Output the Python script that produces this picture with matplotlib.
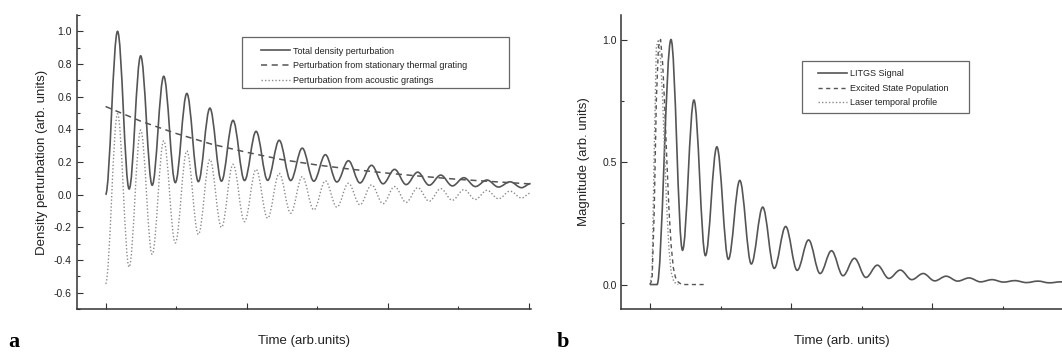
import matplotlib as mpl
mpl.use('agg')
import matplotlib.pyplot as plt
from matplotlib.path import Path
from matplotlib.patches import PathPatch, Rectangle
from matplotlib.lines import Line2D
from matplotlib.ticker import MultipleLocator, FixedLocator

plt.rcParams['font.family'] = ['Liberation Sans', 'DejaVu Sans']
plt.rcParams['axes.unicode_minus'] = False

# ---- panel a : extrema of the oscillating curves (time in arb. units) ----
a_time = [0.0, 0.17, 0.334, 0.498, 0.661, 0.825, 0.989, 1.153, 1.316, 1.48,
          1.644, 1.808, 1.971, 2.135, 2.299, 2.463, 2.626, 2.79, 2.954, 3.118,
          3.281, 3.445, 3.609, 3.773, 3.936, 4.1, 4.264, 4.428, 4.591, 4.755,
          4.919, 5.083, 5.246, 5.41, 5.574, 5.738, 5.901, 6.03]
a_total = [0.0, 1.0, 0.035, 0.85, 0.058, 0.725, 0.074, 0.62, 0.08, 0.53,
           0.083, 0.455, 0.087, 0.388, 0.088, 0.333, 0.087, 0.285, 0.083, 0.245,
           0.078, 0.208, 0.072, 0.18, 0.067, 0.155, 0.062, 0.138, 0.058, 0.12,
           0.054, 0.104, 0.05, 0.09, 0.047, 0.079, 0.043, 0.068]
a_acoustic = [-0.545, 0.495, -0.443, 0.396, -0.365, 0.33, -0.295, 0.268, -0.243, 0.216,
              -0.2, 0.186, -0.165, 0.155, -0.144, 0.13, -0.113, 0.11, -0.093, 0.085,
              -0.076, 0.07, -0.062, 0.06, -0.055, 0.05, -0.047, 0.043, -0.04, 0.037,
              -0.034, 0.031, -0.029, 0.027, -0.025, 0.022, -0.02, 0.01]
a_thermal_t = [0.0, 0.5, 1.0, 1.5, 2.0, 2.5, 3.0, 3.5, 4.0, 4.5, 5.0, 5.5, 6.03]
a_thermal = [0.54, 0.45, 0.375, 0.31, 0.26, 0.215, 0.182, 0.155, 0.132, 0.112, 0.094, 0.08, 0.066]

# ---- panel b ----
b_time = [0.0, 0.1, 0.298, 0.461, 0.623, 0.786, 0.948, 1.111, 1.273, 1.436, 1.598,
          1.761, 1.923, 2.086, 2.248, 2.411, 2.573, 2.736, 2.898, 3.061, 3.223,
          3.386, 3.548, 3.711, 3.873, 4.036, 4.198, 4.361, 4.523, 4.686, 4.848,
          5.011, 5.173, 5.336, 5.498, 5.661, 5.823, 5.986]
b_signal = [0.0, 0.0, 1.0, 0.14, 0.753, 0.118, 0.562, 0.103, 0.425, 0.084, 0.316,
            0.066, 0.237, 0.058, 0.182, 0.045, 0.138, 0.036, 0.107, 0.029, 0.079,
            0.025, 0.059, 0.02, 0.045, 0.015, 0.034, 0.014, 0.027, 0.011, 0.02,
            0.01, 0.016, 0.008, 0.014, 0.007, 0.011, 0.006]
b_pop_t = [0.0, 0.03, 0.06, 0.09, 0.12, 0.15, 0.18, 0.21, 0.24, 0.27, 0.30,
           0.33, 0.36, 0.40, 0.45, 0.55, 0.65, 0.81]
b_pop = [0.0, 0.02, 0.3, 0.75, 0.97, 1.0, 0.9, 0.72, 0.5, 0.3, 0.16,
         0.07, 0.03, 0.01, 0.0, 0.0, 0.0, 0.0]
b_laser_t = [0.0, 0.03, 0.06, 0.09, 0.12, 0.15, 0.18, 0.21, 0.24, 0.27, 0.30, 0.34, 0.40]
b_laser = [0.0, 0.05, 0.55, 0.97, 1.0, 0.92, 0.75, 0.52, 0.3, 0.14, 0.05, 0.01, 0.0]

LINE = '#555555'
DOTC = '#8a8a8a'
AXC = '#333333'


def smooth_path(ts, vs):
    # bezier segments with flat tangents at every extremum
    verts = [(ts[0], vs[0])]
    codes = [Path.MOVETO]
    for i in range(len(ts) - 1):
        h = ts[i + 1] - ts[i]
        verts += [(ts[i] + 0.36 * h, vs[i]), (ts[i + 1] - 0.36 * h, vs[i + 1]), (ts[i + 1], vs[i + 1])]
        codes += [Path.CURVE4] * 3
    return Path(verts, codes)


def style_axes(ax):
    for s in ['top', 'right']:
        ax.spines[s].set_visible(False)
    for s in ['left', 'bottom']:
        ax.spines[s].set_color(AXC)
        ax.spines[s].set_linewidth(1.1)
    ax.tick_params(which='both', direction='in', color=AXC, width=0.8, labelsize=7.5, labelcolor='#222222')
    ax.tick_params(which='major', length=4)
    ax.tick_params(which='minor', length=2.5)
    ax.tick_params(axis='x', labelbottom=False)
    ax.xaxis.set_major_locator(MultipleLocator(2))
    ax.xaxis.set_minor_locator(MultipleLocator(1))


fig = plt.figure(figsize=(10.62, 3.54), dpi=100)

# panel a
ax1 = fig.add_axes([0.0722, 0.127, 0.4278, 0.8305])
ax1.add_patch(PathPatch(smooth_path(a_time, a_acoustic), fill=False, ec=DOTC, lw=1.0, ls=(0, (1, 1.5))))
ax1.plot(a_thermal_t, a_thermal, color=LINE, lw=1.1, ls=(0, (4, 3)))
ax1.add_patch(PathPatch(smooth_path(a_time, a_total), fill=False, ec=LINE, lw=1.2))
ax1.set_xlim(-0.41, 6.035)
ax1.set_ylim(-0.7, 1.1)
style_axes(ax1)
ax1.yaxis.set_major_locator(FixedLocator([-0.6, -0.4, -0.2, 0.0, 0.2, 0.4, 0.6, 0.8, 1.0]))
ax1.yaxis.set_minor_locator(MultipleLocator(0.1))
ax1.yaxis.set_major_formatter(plt.FormatStrFormatter('%.1f'))
ax1.set_xlabel('Time (arb.units)', fontsize=9.5, color='#222222', labelpad=15)
ax1.set_ylabel('Density perturbation (arb. units)', fontsize=9.5, color='#222222', labelpad=4)

ax1.add_patch(Rectangle((0.364, 0.751), 0.588, 0.175, transform=ax1.transAxes,
                        fill=False, ec='#666666', lw=0.9))
h1 = [Line2D([], [], color=LINE, lw=1.2),
      Line2D([], [], color=LINE, lw=1.1, ls=(0, (4, 3))),
      Line2D([], [], color=DOTC, lw=1.0, ls=(0, (1, 1.5)))]
ax1.legend(h1, ['Total density perturbation',
                'Perturbation from stationary thermal grating',
                'Perturbation from acoustic gratings'],
           loc='upper left', bbox_to_anchor=(0.405, 0.893), frameon=False,
           fontsize=6.5, handlelength=3.2, handletextpad=0.35, labelspacing=0.62,
           borderpad=0, borderaxespad=0, labelcolor='#222222')

# panel b
ax2 = fig.add_axes([0.5852, 0.127, 0.4148, 0.8305])
ax2.plot(b_laser_t, b_laser, color=DOTC, lw=1.0, ls=(0, (1, 1.5)))
ax2.plot(b_pop_t, b_pop, color=LINE, lw=1.0, ls=(0, (3, 2.5)))
ax2.add_patch(PathPatch(smooth_path(b_time, b_signal), fill=False, ec=LINE, lw=1.2))
ax2.set_xlim(-0.404, 5.84)
ax2.set_ylim(-0.1, 1.1)
style_axes(ax2)
ax2.yaxis.set_major_locator(FixedLocator([0.0, 0.5, 1.0]))
ax2.yaxis.set_minor_locator(FixedLocator([0.25, 0.75]))
ax2.yaxis.set_major_formatter(plt.FormatStrFormatter('%.1f'))
ax2.set_xlabel('Time (arb. units)', fontsize=9.5, color='#222222', labelpad=15)
ax2.set_ylabel('Magnitude (arb. units)', fontsize=9.5, color='#222222', labelpad=9)

ax2.add_patch(Rectangle((0.41, 0.668), 0.38, 0.177, transform=ax2.transAxes,
                        fill=False, ec='#666666', lw=0.9))
h2 = [Line2D([], [], color=LINE, lw=1.2),
      Line2D([], [], color=LINE, lw=1.0, ls=(0, (3, 2.5))),
      Line2D([], [], color=DOTC, lw=1.0, ls=(0, (1, 1.5)))]
ax2.legend(h2, ['LITGS Signal', 'Excited State Population', 'Laser temporal profile'],
           loc='upper left', bbox_to_anchor=(0.447, 0.815), frameon=False,
           fontsize=6.5, handlelength=3.2, handletextpad=0.35, labelspacing=0.6,
           borderpad=0, borderaxespad=0, labelcolor='#222222')

fig.text(0.008, 0.02, 'a', family='Liberation Serif', weight='bold', fontsize=16)
fig.text(0.524, 0.02, 'b', family='Liberation Serif', weight='bold', fontsize=16)

fig.savefig('out.png', dpi=100, facecolor='white')
